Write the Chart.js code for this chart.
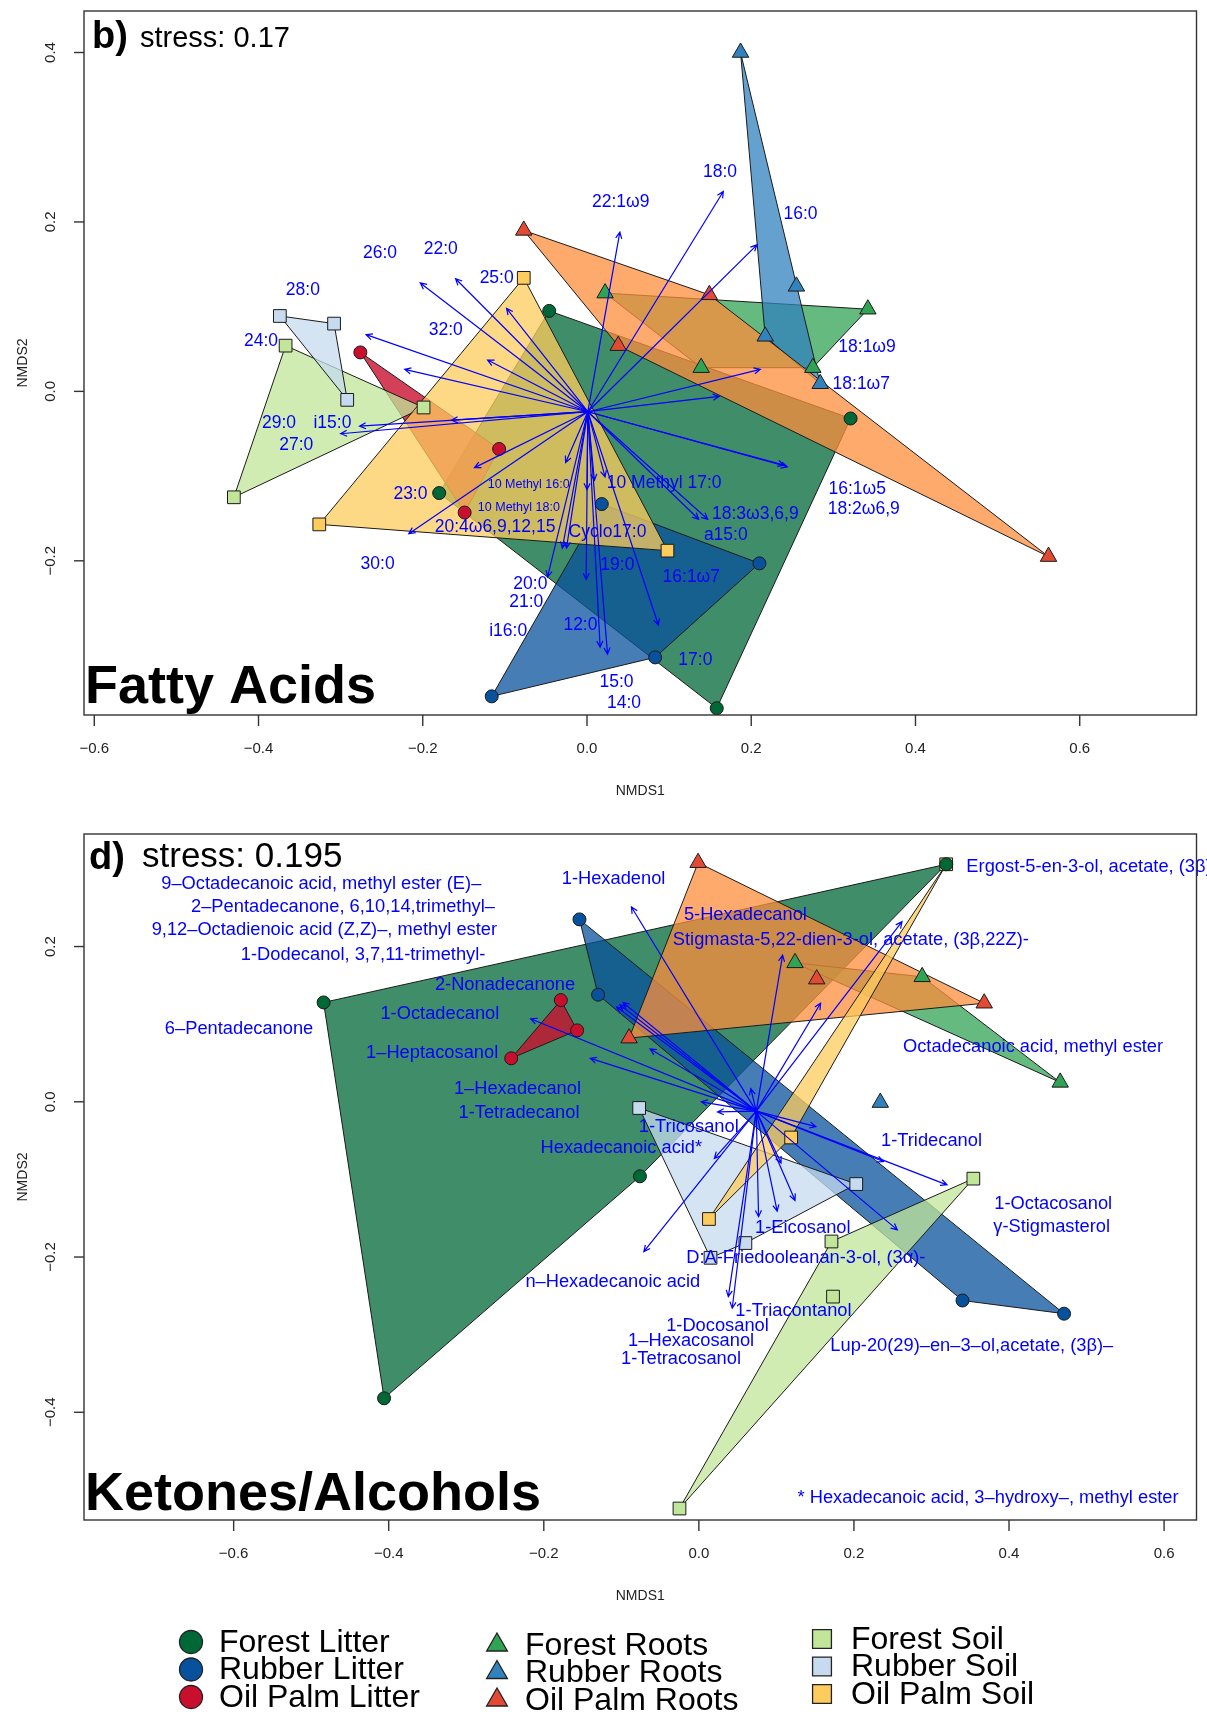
<!DOCTYPE html>
<html>
<head>
<meta charset="utf-8">
<title>NMDS: fatty acids and ketones/alcohols</title>
<script src="https://cdn.jsdelivr.net/npm/chart.js@4.4.1/dist/chart.umd.min.js"></script>
<style>
  body { margin: 0; background: #fff; }
  canvas { position: absolute; left: 0; }
</style>
</head>
<body>
<canvas id="fattyChart" width="1207" height="805" style="top:0px"></canvas>
<canvas id="ketoneChart" width="1207" height="910" style="top:805px"></canvas>
<script>
const FONT = '"Liberation Sans", Arial, Helvetica, sans-serif';

// sample groups (legend order)
const groups = ['Forest Litter', 'Rubber Litter', 'Oil Palm Litter',
                'Forest Roots', 'Rubber Roots', 'Oil Palm Roots',
                'Forest Soil', 'Rubber Soil', 'Oil Palm Soil'];
const groupShape = ['circle', 'circle', 'circle', 'triangle', 'triangle', 'triangle', 'rect', 'rect', 'rect'];
const groupColor = ['#006837', '#08519c', '#c8102e', '#31a354', '#3182bd', '#e34a33', '#c2e699', '#c6dbef', '#fdcc5c'];
const groupFill = ['rgba(0,104,55,0.75)', 'rgba(8,81,156,0.75)', 'rgba(200,16,46,0.8)',
                   'rgba(49,163,84,0.75)', 'rgba(49,130,189,0.75)', 'rgba(253,141,60,0.75)',
                   'rgba(194,230,153,0.75)', 'rgba(198,219,239,0.75)', 'rgba(254,204,92,0.75)'];

// ---- panel b: fatty acids ----
const faGroup = [0, 0, 0, 0, 1, 1, 1, 1, 2, 2, 2, 3, 3, 3, 3, 4, 4, 4, 4, 5, 5, 5, 5, 6, 6, 6, 7, 7, 7, 8, 8, 8];
const faX = [-0.046, 0.321, 0.158, -0.180,  0.018, 0.210, 0.083, -0.116,  -0.276, -0.107, -0.149,
             0.022, 0.342, 0.275, 0.139,  0.187, 0.255, 0.284, 0.217,  -0.077, 0.149, 0.562, 0.038,
             -0.367, -0.199, -0.430,  -0.374, -0.308, -0.292,  -0.077, 0.098, -0.326];
const faY = [0.095, -0.032, -0.374, -0.120,  -0.133, -0.203, -0.314, -0.360,  0.046, -0.068, -0.143,
             0.116, 0.097, 0.028, 0.028,  0.400, 0.124, 0.009, 0.065,  0.190, 0.114, -0.195, 0.054,
             0.054, -0.019, -0.125,  0.089, 0.080, -0.010,  0.134, -0.188, -0.157];
const faOrigin = [0.001, -0.024];
const faArrowX = [0.166, 0.040, 0.207, -0.203, -0.160, -0.098, -0.121, -0.269, -0.222, -0.300, -0.277,
                  -0.165, -0.137, -0.217, -0.026, 0.000, 0.009, 0.022, 0.136, 0.147, 0.244, 0.240,
                  0.161, 0.211, -0.048, -0.030, -0.025, -0.001, 0.016, 0.025, 0.087];
const faArrowY = [0.236, 0.188, 0.173, 0.128, 0.133, 0.098, 0.037, 0.067, 0.026, -0.050, -0.041,
                  -0.034, -0.090, -0.168, -0.084, -0.116, -0.105, -0.101, -0.151, -0.151, -0.089, -0.087,
                  -0.006, 0.026, -0.219, -0.185, -0.185, -0.222, -0.302, -0.310, -0.276];
const faLabels = ['28:0', '24:0', '26:0', '22:0', '25:0', '32:0', '22:1ω9', '18:0', '16:0', '18:1ω9', '18:1ω7',
                  '29:0', 'i15:0', '27:0', '23:0', '10 Methyl 16:0', '10 Methyl 18:0', '10 Methyl 17:0',
                  '20:4ω6,9,12,15', 'Cyclo17:0', '18:3ω3,6,9', 'a15:0', '16:1ω5', '18:2ω6,9', '30:0', '19:0',
                  '16:1ω7', '20:0', '21:0', 'i16:0', '12:0', '17:0', '15:0', '14:0'];
const faLabelX = [-0.346, -0.397, -0.252, -0.178, -0.110, -0.172, 0.041, 0.162, 0.260, 0.341, 0.334,
                  -0.375, -0.310, -0.354, -0.215, -0.071, -0.083, 0.094,
                  -0.112, 0.025, 0.205, 0.169, 0.329, 0.337, -0.255, 0.037,
                  0.127, -0.069, -0.074, -0.096, -0.008, 0.132, 0.036, 0.045];
const faLabelY = [0.120, 0.059, 0.163, 0.168, 0.134, 0.072, 0.223, 0.259, 0.209, 0.052, 0.008,
                  -0.037, -0.037, -0.063, -0.121, -0.110, -0.137, -0.108,
                  -0.160, -0.166, -0.145, -0.170, -0.116, -0.139, -0.204, -0.205,
                  -0.219, -0.228, -0.249, -0.283, -0.276, -0.317, -0.343, -0.368];
const faXTicks = [-0.6, -0.4, -0.2, 0, 0.2, 0.4, 0.6];
const faYTicks = [-0.2, 0, 0.2, 0.4];

// ---- panel d: ketones / alcohols ----
const kaGroup = [0, 0, 0, 0, 1, 1, 1, 1, 2, 2, 2, 3, 3, 3, 4, 5, 5, 5, 5, 6, 6, 6, 6, 7, 7, 7, 7, 8, 8, 8];
const kaX = [0.319, -0.484, -0.406, -0.076,  -0.154, -0.130, 0.340, 0.471,  -0.178, -0.157, -0.242,
             0.124, 0.288, 0.466,  0.234,  -0.001, 0.152, 0.368, -0.090,
             0.354, 0.171, 0.173, -0.025,  -0.077, 0.203, 0.060, 0.015,  0.319, 0.119, 0.013];
const kaY = [0.306, 0.128, -0.382, -0.096,  0.235, 0.138, -0.256, -0.273,  0.131, 0.092, 0.056,
             0.179, 0.161, 0.025,  -0.001,  0.308, 0.158, 0.127, 0.082,
             -0.099, -0.180, -0.251, -0.524,  -0.008, -0.106, -0.182, -0.201,  0.306, -0.046, -0.151];
const kaOrigin = [0.074, -0.012];
const kaArrowX = [-0.087, 0.108, 0.157, 0.262, 0.151, 0.320, 0.256, 0.238, 0.124, 0.101, 0.077, 0.038, 0.043,
                  0.106, -0.071, 0.020, 0.024, 0.003, -0.140, -0.063, -0.217, -0.102, -0.106, -0.098, 0.067];
const kaArrowY = [0.251, 0.189, 0.127, 0.232, -0.032, -0.107, -0.165, -0.077, -0.127, -0.141, -0.148, -0.251, -0.266,
                  -0.079, -0.193, -0.073, -0.013, 0.000, 0.056, 0.068, 0.107, 0.125, 0.122, 0.128, 0.017];
const kaLabels = ['9–Octadecanoic acid, methyl ester (E)–', '2–Pentadecanone, 6,10,14,trimethyl–',
                  '9,12–Octadienoic acid (Z,Z)–, methyl ester', '1-Dodecanol, 3,7,11-trimethyl-',
                  '2-Nonadecanone', '1-Octadecanol', '6–Pentadecanone', '1–Heptacosanol', '1–Hexadecanol',
                  '1-Tetradecanol', 'Hexadecanoic acid*', '1-Tricosanol', 'n–Hexadecanoic acid', '1-Hexadenol',
                  '5-Hexadecanol', 'Stigmasta-5,22-dien-3-ol, acetate, (3β,22Z)-', 'Ergost-5-en-3-ol, acetate, (3β)-',
                  'Octadecanoic acid, methyl ester', '1-Tridecanol', '1-Octacosanol', 'γ-Stigmasterol', '1-Eicosanol',
                  'D:A-Friedooleanan-3-ol, (3α)-', '1-Triacontanol', '1-Docosanol', '1–Hexacosanol', '1-Tetracosanol',
                  'Lup-20(29)–en–3–ol,acetate, (3β)–', '* Hexadecanoic acid, 3–hydroxy–, methyl ester'];
const kaLabelX = [-0.487, -0.459, -0.483, -0.433, -0.250, -0.334, -0.593, -0.344, -0.234, -0.232, -0.100, -0.013,
                  -0.111, -0.110, 0.060, 0.196, 0.345, 0.431, 0.300, 0.457, 0.455, 0.134, 0.138, 0.122, 0.024,
                  -0.010, -0.023, 0.352, 0.373];
const kaLabelY = [0.280, 0.251, 0.221, 0.189, 0.151, 0.113, 0.094, 0.063, 0.017, -0.014, -0.059, -0.032,
                  -0.232, 0.287, 0.241, 0.208, 0.302, 0.070, -0.051, -0.131, -0.161, -0.162, -0.201, -0.269,
                  -0.289, -0.308, -0.331, -0.314, -0.511];
const kaXTicks = [-0.6, -0.4, -0.2, 0, 0.2, 0.4, 0.6];
const kaYTicks = [-0.4, -0.2, 0, 0.2];

const markerRadius = { circle: 6.5, triangle: 9.5, rect: 9 };

// convex hull (like ordihull)
function convexHull(points) {
  const p = points.slice().sort((a, b) => a.x - b.x || a.y - b.y);
  const cross = (o, a, b) => (a.x - o.x) * (b.y - o.y) - (a.y - o.y) * (b.x - o.x);
  const lower = [], upper = [];
  for (const q of p) {
    while (lower.length >= 2 && cross(lower[lower.length - 2], lower[lower.length - 1], q) <= 0) lower.pop();
    lower.push(q);
  }
  for (let i = p.length - 1; i >= 0; i--) {
    const q = p[i];
    while (upper.length >= 2 && cross(upper[upper.length - 2], upper[upper.length - 1], q) <= 0) upper.pop();
    upper.push(q);
  }
  upper.pop(); lower.pop();
  return lower.concat(upper);
}

function siteDatasets(xs, ys, gs) {
  const sets = [];
  groups.forEach((name, g) => {
    const pts = [];
    gs.forEach((gi, i) => { if (gi === g) pts.push({ x: xs[i], y: ys[i] }); });
    if (!pts.length) return;
    if (pts.length > 2) {
      const h = convexHull(pts);
      sets.push({
        type: 'line', label: name + ' hull', data: h.concat([h[0]]),
        fill: 'shape', backgroundColor: groupFill[g], borderColor: '#1a1a1a', borderWidth: 1,
        pointRadius: 0, tension: 0, order: 100 - g
      });
    }
    sets.push({
      type: 'scatter', label: name, data: pts,
      pointStyle: groupShape[g], pointRadius: markerRadius[groupShape[g]],
      backgroundColor: groupColor[g], borderColor: '#1a1a1a', borderWidth: 1, order: 10 + g
    });
  });
  return sets;
}

const fmt = v => (v < 0 ? '−' : '') + Math.abs(v).toFixed(1);

function drawMarker(ctx, shape, x, y, s) {
  ctx.beginPath();
  if (shape === 'circle') ctx.arc(x, y, s, 0, Math.PI * 2);
  else if (shape === 'triangle') {
    ctx.moveTo(x, y - s);
    ctx.lineTo(x + s * 0.866, y + s * 0.5);
    ctx.lineTo(x - s * 0.866, y + s * 0.5);
    ctx.closePath();
  } else ctx.rect(x - s * 0.82, y - s * 0.82, s * 1.64, s * 1.64);
  ctx.fill(); ctx.stroke();
}

const nmdsPlugin = {
  id: 'nmds',
  afterDatasetsDraw(chart, args, o) {
    const { ctx, chartArea: a } = chart;
    const px = v => chart.scales.x.getPixelForValue(v);
    const py = v => chart.scales.y.getPixelForValue(v);
    ctx.save();

    // fitted vectors
    ctx.strokeStyle = '#0000ff';
    ctx.lineWidth = 1.2;
    const x0 = px(o.origin[0]), y0 = py(o.origin[1]);
    o.arrowX.forEach((vx, i) => {
      const x1 = px(vx), y1 = py(o.arrowY[i]);
      const ang = Math.atan2(y1 - y0, x1 - x0);
      ctx.beginPath();
      ctx.moveTo(x0, y0);
      ctx.lineTo(x1, y1);
      ctx.moveTo(x1 - 7 * Math.cos(ang - 0.45), y1 - 7 * Math.sin(ang - 0.45));
      ctx.lineTo(x1, y1);
      ctx.lineTo(x1 - 7 * Math.cos(ang + 0.45), y1 - 7 * Math.sin(ang + 0.45));
      ctx.stroke();
    });

    ctx.fillStyle = '#0000ff';
    ctx.textBaseline = 'middle';
    o.labels.forEach((t, i) => {
      ctx.font = (o.small.includes(t) ? o.smallSize : o.labelSize) + 'px ' + FONT;
      ctx.textAlign = o.leftAligned.includes(t) ? 'left' : 'center';
      ctx.fillText(t, px(o.labelX[i]), py(o.labelY[i]));
    });

    // box, ticks, tick labels
    ctx.strokeStyle = '#333';
    ctx.lineWidth = 1.4;
    ctx.strokeRect(a.left, a.top, a.right - a.left, a.bottom - a.top);
    ctx.fillStyle = '#222';
    ctx.font = '15px ' + FONT;
    ctx.textAlign = 'center';
    o.xTicks.forEach(v => {
      const x = px(v);
      ctx.beginPath(); ctx.moveTo(x, a.bottom); ctx.lineTo(x, a.bottom + 11); ctx.stroke();
      ctx.fillText(fmt(v), x, a.bottom + 34);
    });
    o.yTicks.forEach(v => {
      const y = py(v);
      ctx.beginPath(); ctx.moveTo(a.left, y); ctx.lineTo(a.left - 10, y); ctx.stroke();
      ctx.save(); ctx.translate(a.left - 33, y); ctx.rotate(-Math.PI / 2);
      ctx.fillText(fmt(v), 0, 0); ctx.restore();
    });
    ctx.font = '14px ' + FONT;
    ctx.fillText('NMDS1', (a.left + a.right) / 2, a.bottom + 76);
    ctx.save(); ctx.translate(23, (a.top + a.bottom) / 2); ctx.rotate(-Math.PI / 2);
    ctx.fillText('NMDS2', 0, 0); ctx.restore();

    // panel letter, stress, title
    ctx.fillStyle = '#000';
    ctx.textAlign = 'left';
    ctx.textBaseline = 'alphabetic';
    ctx.font = 'bold 38px ' + FONT;
    ctx.fillText(o.letter, a.left + o.letterX, a.top + o.letterBase);
    ctx.font = o.stressSize + 'px ' + FONT;
    ctx.fillText('stress: ' + o.stress, a.left + o.stressX, a.top + o.stressBase);
    ctx.font = 'bold 54px ' + FONT;
    ctx.fillText(o.title, a.left + 1, a.bottom - o.titleUp);

    // group legend under panel d
    if (o.legend) {
      const symX = [191, 497, 822], txtX = [219, 525, 851], rowY = [122, 125, 119];
      ctx.lineWidth = 1.3;
      ctx.strokeStyle = '#222';
      ctx.textBaseline = 'middle';
      ctx.font = '32px ' + FONT;
      groups.forEach((name, g) => {
        const c = Math.floor(g / 3), r = g % 3;
        const y = a.bottom + rowY[c] + r * 27.5;
        ctx.fillStyle = groupColor[g];
        drawMarker(ctx, groupShape[g], symX[c], y, groupShape[g] === 'triangle' ? 12 : 11.5);
        ctx.fillStyle = '#000';
        ctx.fillText(name, txtX[c], y + 1);
      });
    }
    ctx.restore();
  }
};

function makePanel(id, sets, range, pad, deco) {
  return new Chart(document.getElementById(id), {
    type: 'scatter',
    data: { datasets: sets },
    options: {
      responsive: false,
      animation: false,
      devicePixelRatio: 1,
      events: [],
      layout: { padding: pad },
      scales: {
        x: { type: 'linear', min: range[0], max: range[1], display: false },
        y: { type: 'linear', min: range[2], max: range[3], display: false }
      },
      plugins: { legend: { display: false }, tooltip: { enabled: false }, nmds: deco }
    },
    plugins: [nmdsPlugin]
  });
}

makePanel('fattyChart', siteDatasets(faX, faY, faGroup), [-0.6125, 0.7422, -0.382, 0.449],
  { left: 84, right: 2, top: 11, bottom: 90 },
  {
    origin: faOrigin, arrowX: faArrowX, arrowY: faArrowY,
    labels: faLabels, labelX: faLabelX, labelY: faLabelY,
    small: ['10 Methyl 16:0', '10 Methyl 18:0'], leftAligned: [], labelSize: 17.5, smallSize: 12.5,
    xTicks: faXTicks, yTicks: faYTicks,
    letter: 'b)', letterX: 8, letterBase: 37, stress: '0.17', stressSize: 29, stressX: 56, stressBase: 36,
    title: 'Fatty Acids', titleUp: 12, legend: false
  });

makePanel('ketoneChart', siteDatasets(kaX, kaY, kaGroup), [-0.793, 0.6418, -0.5388, 0.345],
  { left: 84, right: 2, top: 29, bottom: 195 },
  {
    origin: kaOrigin, arrowX: kaArrowX, arrowY: kaArrowY,
    labels: kaLabels, labelX: kaLabelX, labelY: kaLabelY,
    small: [], leftAligned: ['Ergost-5-en-3-ol, acetate, (3β)-'], labelSize: 18.3, smallSize: 12.5,
    xTicks: kaXTicks, yTicks: kaYTicks,
    letter: 'd)', letterX: 5, letterBase: 35, stress: '0.195', stressSize: 35, stressX: 58, stressBase: 33,
    title: 'Ketones/Alcohols', titleUp: 10, legend: true
  });
</script>
</body>
</html>
